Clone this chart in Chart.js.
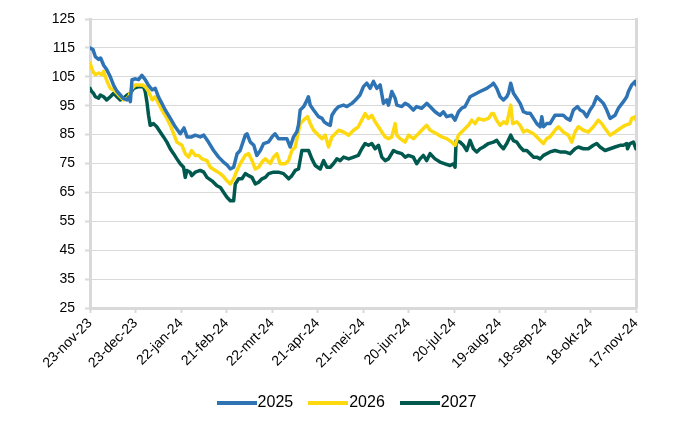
<!DOCTYPE html>
<html>
<head>
<meta charset="utf-8">
<script src="https://cdn.jsdelivr.net/npm/chart.js@4/dist/chart.umd.min.js"></script>
<style>
  html, body { margin: 0; padding: 0; background: #ffffff; }
  #wrap { width: 700px; height: 430px; position: relative; }
</style>
</head>
<body>
<div id="wrap"><canvas id="c" width="700" height="430"></canvas></div>
<script>
// X tick labels (every 30 days from 23-nov-23)
const xLabels = ["23-nov-23","23-dec-23","22-jan-24","21-feb-24","22-mrt-24","21-apr-24","21-mei-24","20-jun-24","20-jul-24","19-aug-24","18-sep-24","18-okt-24","17-nov-24"];
const yTicks = [25, 35, 45, 55, 65, 75, 85, 95, 105, 115, 125];
const seriesNames = ["2025", "2026", "2027"];

// Series 2025 (day offset from 23-nov-23, value)
const days2025 = [0,2,3.5,5.7,7,9,11,13.4,15.6,17.8,20,22,24.4,25.5,26.6,27.7,30,32,34.2,36.4,38.6,41,43,45.2,47.4,49.6,53,56.2,59.5,62,64,67,69.4,72.7,75,78,81.5,84.8,88,90.3,92.5,94.7,97,99,102.4,103.5,105.7,108,110,112.3,114.5,117.8,120,122,124.3,127.6,129.8,132,134.2,136.4,137.5,138.6,140.8,142.6,144,145.2,147.4,150.7,153,154.4,156,158.4,159.5,161.7,164,167.2,169.4,172.7,174.9,178,180.3,182.5,184.7,186.9,189.1,191.3,193.5,195.7,196.8,199,201.2,202.3,205.6,207.8,210,213.2,215.4,218.7,222,224.2,227.5,230.8,233,235.2,238.5,240.7,243,245,247.3,250.6,252.8,255,257.2,261.6,264.9,266,268.2,270.4,272.6,274.8,275.9,277.4,279.2,281.4,283.6,285.8,288,290.2,292.4,294.6,296.8,297.9,299,301.1,303.3,306.6,309.9,312.1,314.3,316.5,318.7,321.4,323.1,325.3,327.5,329.7,331.9,334.1,336.3,338.5,340.7,342.9,346.2,348.4,351.7,353.9,355,357.2,359.4,360];
const vals2025 = [115,114.4,112,111,111.5,109,107.5,105,102,100,98.7,97.5,97,98,96.4,104,104.3,104,105.5,104,102,100.5,101,98,95.8,93.5,90.6,87.7,85.3,87.3,84.2,84.2,84.8,84.2,84.8,82.5,79.5,77.2,75.5,74.5,73.1,73.7,78.4,79.5,84.8,85.3,82.4,81.3,77.8,79.5,81.9,82.5,84.2,85.3,83.6,83.6,83.6,80.7,84.2,86,88.4,93.5,94.6,96.4,98.1,95.2,93.5,91.2,90.6,89.4,88.8,88.2,91.7,93.5,94.7,95.2,94.7,95.8,96.9,98.7,101.6,102.8,101,103.4,101,102.2,95.8,97,95.2,99.9,97.6,95.2,94.7,95.8,95.2,93.5,94.7,94.1,95.8,94.7,92.9,91.7,92.9,91.2,91.7,90,92.9,94.1,94.7,98.1,98.7,99.3,99.9,101,102.2,102.8,101,98.1,97,98.1,99.3,102.8,99.3,97.6,95.8,92.9,92.4,92.4,90.6,88.8,87.7,91.2,87.7,88.8,88.8,91.7,91.7,91.7,90.6,90,93.5,94.7,93.5,92.9,91.2,93.5,95.2,98.1,97,95.8,93.5,90.6,91.7,94.1,96.4,98.1,99.9,102.2,103.4,102.2];

// Series 2026
const days2026 = [0,1.1,2.3,3.5,5.7,7.9,9,10.1,12.3,13.4,15.6,17.8,20,22.2,24.4,25.5,27.7,30,32.2,34.4,36.4,38.6,41,43,45.2,47.4,50.7,53,55.1,57.3,60.6,62.8,65,67,69.4,71.6,73.8,77.1,79.3,82.6,85.9,88,90.3,92.5,94.7,96.9,99.1,102.4,104.6,106.8,109,111.2,113.4,115.6,118.9,121,123.2,125.4,128.7,130.9,133.1,135.3,136.9,138.6,140.8,143.5,145.2,147.4,150.7,153,155.1,157.3,159.5,161.7,163.9,167.2,170.5,173.8,176.9,179.2,181.4,183.6,185.8,188,190.2,192.4,194.6,196.8,199,201.2,202.3,204.5,207.8,210,213.2,216.5,219.8,222,224.2,226.4,228.6,231.9,235.2,238.5,240.7,242.9,246.2,249.5,251.7,253.9,256.1,259.4,262.7,264.9,266,268.2,270.4,272.6,274.8,277.4,278.7,281.4,283.6,285.8,288,290.2,292.4,294.6,296.8,299,301.1,303.3,306.6,308.8,312.1,315.4,317.6,319.8,322,325.3,328.6,331.9,335.2,337.4,339.6,342.9,346.2,349.5,352.8,356,357.2,359.4,360];
const vals2026 = [109.8,108,106.5,105.7,106.3,105.7,106.9,105,102.2,101,100.5,99.3,98.1,97,97.6,98.1,101,102.2,102.2,102.2,101.6,99.9,97,98.1,95.8,93.5,90.6,88.2,85.3,82.4,81.3,78.4,77.2,79.5,77.8,77.8,76.6,76,73.7,72.6,71.5,70.5,69,67.9,69.7,72.6,75,77.8,78.4,76,73.1,73.7,75.5,76.6,75,77.2,78.4,74.9,74.9,76,79.5,80.7,84.8,88.8,90,91.2,88.8,86.5,84.8,83.6,84.8,80.7,84.2,85.3,86.5,85.9,84.8,86.5,87.7,90,92.3,90.6,91.7,89.4,87.7,85.9,84.2,83.6,84.2,88.8,84.8,83.6,82.4,84.8,83.6,85.3,87.1,88.2,86.5,85.9,85.3,84.2,83.6,82.4,81.3,84.8,86.5,88.2,90,88.8,90.6,90,90.6,92.3,92.3,89.9,88.2,89.4,88.8,95.2,88.8,89.4,88.2,85.9,86.5,85.9,85.3,84.2,83,81.9,83.6,84.2,86.5,87.7,85.9,84.8,82.4,85.9,87.7,86.5,85.9,87.7,90,88.8,87.1,84.8,85.9,87.1,88.2,88.8,90.6,91.2,90];

// Series 2027
const days2027 = [0,1.1,2.3,3.5,5.7,6.8,9,11,13.4,15.6,17.8,20,22.2,24.4,26.6,28.8,32,35.3,36.4,37.5,38.6,39.7,41.9,44,46.3,48.5,50.7,52.9,55.1,57.3,59.5,61.7,62.8,63.9,66,67,69.4,72.7,75,77.1,80.4,83.7,86,88.1,90.3,92.5,94.7,95.8,98,100.2,102.4,104.6,106.8,109,111.2,113.4,115.6,117.8,121,124.3,127.6,131,133.1,135.3,137.5,139.7,141.9,144.1,146.3,148.5,151.8,154,156.2,158.4,160.6,162.8,165,167.2,170.5,173.8,176.9,179.2,181.4,183.6,185.8,188,190.2,192.4,194.6,196.8,200.1,202.3,205.6,207.8,210,213.2,215.4,217.6,219.8,222,224.2,227.5,230.8,234.1,237.4,239.6,240.7,241.4,244,246.2,248.4,250.6,252.8,255,257.2,259.4,262.7,266,268.2,270.4,272.6,274.8,277.4,279.2,281.4,283.6,285.8,288,290.2,292.4,294.6,296.8,299,301.1,303.3,306.6,309.9,313.2,316.5,319.8,322,325.3,328.6,331.9,334.1,336.3,339.6,342.9,346.2,349.5,351.7,353.9,354.4,356,358.3,360];
const vals2027 = [101,99.9,99.3,98.1,97.6,98.7,98.1,97,98.1,99.3,98.1,97,97.6,98.7,99.3,101,101.6,101.6,99.9,96.4,91.7,88.2,88.8,87.7,85.9,84.2,82.4,80.1,78.4,76.6,74.9,73.7,70.2,72.6,72,70.8,72,72.6,72,70.2,69,67.3,66.7,65,63.3,62.1,62.1,67.9,69.7,69.7,71.5,70.8,70.2,67.9,68.5,69.7,70.2,71.5,72,72,71.5,69.7,70.8,72.6,73.1,79.5,79.5,79.5,76.6,74.3,73.1,76,73.7,73.7,75,76.6,76,77.2,76.6,77.2,77.8,80.1,81.9,81.3,81.9,80.1,81.3,77.2,76,76.6,79.5,78.9,78.4,77.2,77.8,77.2,74.9,76.6,77.8,76,78.4,76.6,75.5,74.9,74.3,74.9,73.7,83,82.4,81.3,79.5,83,80.1,79,80.1,80.7,81.9,82.4,83,81.3,80.1,81.9,84.8,82.9,82.4,80.7,79.5,79.5,78.4,77.2,77.2,76.6,77.8,78.4,79,79.5,79,79,78.4,80.1,80.7,80.1,80.1,81.3,81.9,80.7,79.5,80.1,80.7,81.3,81.3,81.9,80.1,81.9,82.4,80.1];

const colors = ["#2e74b5", "#ffd90f", "#00594f"];
const FONT = "'Liberation Sans', Arial, sans-serif";
const GRID = "#d9d9d9";

// legend line swatch (style only)
function swatch(color) {
  const c = document.createElement('canvas');
  c.width = 40; c.height = 4;
  const g = c.getContext('2d');
  g.fillStyle = color;
  g.fillRect(0, 0, 40, 4);
  return c;
}

function pts(d, v) { return d.map((x, i) => ({ x: x, y: v[i] })); }

const ds = [
  [days2025, vals2025],
  [days2026, vals2026],
  [days2027, vals2027]
].map((p, i) => ({
  label: seriesNames[i],
  data: pts(p[0], p[1]),
  borderColor: colors[i],
  backgroundColor: colors[i],
  borderWidth: 3.5,
  pointRadius: 0,
  pointHoverRadius: 0,
  pointStyle: swatch(colors[i]),
  tension: 0,
  fill: false,
  borderJoinStyle: 'round',
  borderCapStyle: 'round',
  yAxisID: 'y'
}));

new Chart(document.getElementById('c'), {
  type: 'line',
  data: { datasets: ds },
  options: {
    responsive: false,
    animation: false,
    events: [],
    layout: { padding: { left: 0, right: 0, top: 19, bottom: 9 } },
    plugins: {
      tooltip: { enabled: false },
      legend: {
        position: 'bottom',
        labels: {
          usePointStyle: true,
          pointStyleWidth: 26,
          boxHeight: 16,
          padding: 22,
          color: '#000',
          font: { family: FONT, size: 16 }
        }
      }
    },
    scales: {
      x: {
        type: 'linear',
        min: 0,
        max: 360,
        afterBuildTicks: (s) => { s.ticks = xLabels.map((_, i) => ({ value: i * 30 })); },
        afterFit: (s) => { s.height = 65; },
        ticks: {
          autoSkip: false,
          minRotation: 45,
          maxRotation: 45,
          padding: 2,
          color: '#000',
          font: { family: FONT, size: 14 },
          callback: (v, i) => xLabels[i]
        },
        grid: {
          drawOnChartArea: false,
          color: GRID,
          tickColor: GRID,
          tickLength: 5,
          tickWidth: 2
        },
        border: { color: GRID, width: 3 }
      },
      y: {
        type: 'linear',
        position: 'left',
        min: 25,
        max: 125,
        afterBuildTicks: (s) => { s.ticks = yTicks.map(v => ({ value: v })); },
        afterFit: (s) => { s.width = 90; },
        ticks: {
          padding: 10,
          color: '#000',
          font: { family: FONT, size: 14 }
        },
        grid: {
          color: GRID,
          lineWidth: 1,
          tickColor: GRID,
          tickLength: 5,
          tickWidth: 2
        },
        border: { color: GRID, width: 3 }
      },
      y2: {
        type: 'linear',
        position: 'right',
        min: 25,
        max: 125,
        afterFit: (s) => { s.width = 64; },
        ticks: { display: false },
        grid: { drawOnChartArea: false, drawTicks: false },
        border: { color: GRID, width: 3 }
      }
    }
  }
});
</script>
</body>
</html>
